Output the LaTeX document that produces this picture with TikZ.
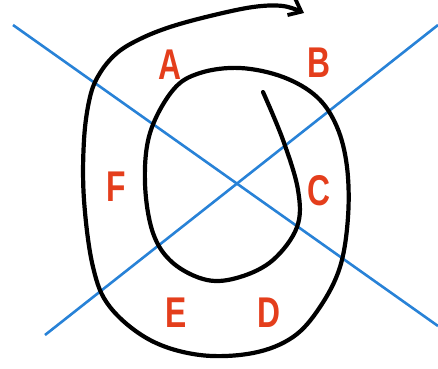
\documentclass[tikz,border=0pt]{standalone}
\usepackage{fontspec}
\setmainfont{Liberation Sans}
\usetikzlibrary{arrows.meta}
\definecolor{lblred}{RGB}{228,62,28}
\definecolor{axblue}{RGB}{40,130,215}
\begin{document}
\begin{tikzpicture}[x=1pt,y=-1pt,
  lbl/.style={text=lblred,font=\fontsize{43}{43}\selectfont\bfseries,xscale=0.74,inner sep=0pt},
  axis/.style={axblue,line width=2.6pt},
  spiral/.style={black,line width=4.2pt,line cap=round,line join=round}]
\useasboundingbox (0,0) rectangle (438,368);
\draw[axis] (13,25) -- (438,326);
\draw[axis] (45,335) -- (438,25);
\draw[spiral,-{Straight Barb[length=11pt,width=18pt,line width=3.8pt]}] plot[smooth,tension=0.6] coordinates {
 (263,92) (283,140) (298,190) (297,227) (273,260) (240,277) (207,280) (173,263)
 (153,233) (145,183) (150,133) (173,90) (200,73) (240,68) (283,77) (317,97)
 (337,127) (347,167) (348,217) (340,267) (320,307) (293,337) (253,353) (200,355)
 (150,340) (110,307) (93,267) (84,200) (84,140) (90,97) (100,73) (117,53)
 (140,39) (170,27) (210,16) (253,7) (283,6) (304,13)};
\node[lbl] (A) at (170,65) {A};
\node[lbl] (B) at (319,63) {B};
\node[lbl] (C) at (319,191) {C};
\node[lbl] (D) at (269,313) {D};
\node[lbl] (E) at (176,313) {E};
\node[lbl] (F) at (116,187) {F};
\end{tikzpicture}
\end{document}
